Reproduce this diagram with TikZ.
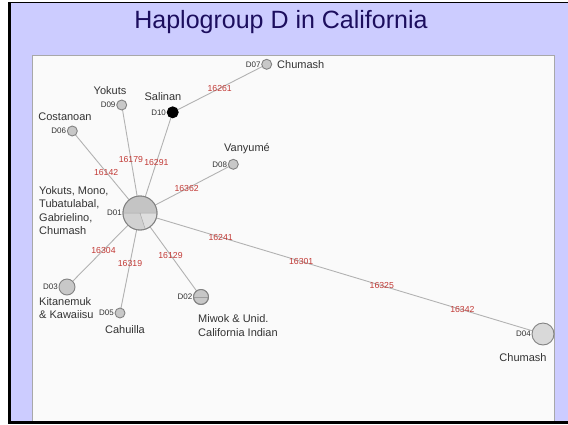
\documentclass[tikz,border=0pt]{standalone}
\usepackage{fontspec}
\setmainfont{Liberation Sans}
\usetikzlibrary{backgrounds}

\definecolor{lav}{HTML}{CCCCFF}
\definecolor{navy}{HTML}{1C0E5E}
\definecolor{mutred}{HTML}{C23A36}
\definecolor{edgegray}{HTML}{B2B2B2}
\definecolor{nodegray}{HTML}{C8C8C8}
\definecolor{ringgray}{HTML}{828282}
\definecolor{txtgray}{HTML}{333333}
\definecolor{panelline}{HTML}{A8A8A8}

\begin{document}
\begin{tikzpicture}[x=1pt,y=-1pt,
  hap/.style={circle,draw=ringgray,fill=nodegray,line width=0.9pt,
              inner sep=0pt,minimum size=#1},
  hid/.style={font=\fontsize{8}{9}\selectfont,text=txtgray,inner sep=0.6pt},
  pop/.style={font=\fontsize{11}{13.3}\selectfont,text=txtgray,inner sep=0pt},
  link/.style={draw=edgegray,line width=0.9pt},
  mut/.style={font=\fontsize{8.7}{9}\selectfont,text=mutred,inner sep=0pt}]

\useasboundingbox (0,0) rectangle (568,424);

% slide frame and white plotting panel
\begin{scope}[on background layer]
  \fill[lav] (11,3.3) rectangle (568,420.8);
  \fill[black] (8,1.7) rectangle (11,424);
  \fill[black] (8,1.7) rectangle (568,3.3);
  \fill[white!98!black] (32,55) rectangle (554,420.8);
  \draw[panelline,line width=0.8pt] (32,420.8) -- (32,55) -- (554,55) -- (554,420.8);
  \fill[black] (8,420.8) rectangle (568,424);
\end{scope}

% title
\node[font=\fontsize{25}{28}\selectfont,text=navy] (title) at (281,22)
  {Haplogroup D in California};

% haplotypes
\node[hap=34pt,label={[hid]left:D01}] (d01) at (140,213) {};
\node[hap=16pt,label={[hid]left:D03}] (d03) at (67,287) {};
\node[hap=10pt,label={[hid]left:D05}] (d05) at (120,313) {};
\node[hap=15pt,label={[hid]left:D02}] (d02) at (201,297) {};
\node[hap=22pt,fill=white!85!black,label={[hid]left:D04}] (d04) at (543,334) {};
\node[hap=10pt,label={[hid]left:D06}] (d06) at (72.3,131) {};
\node[hap=10pt,label={[hid]left:D09}] (d09) at (121.7,105) {};
\node[hap=11pt,fill=black,draw=black,label={[hid]left:D10}] (d10) at (172.7,112.3) {};
\node[hap=10pt,label={[hid]left:D07}] (d07) at (266.7,64.3) {};
\node[hap=10pt,label={[hid]left:D08}] (d08) at (233.3,164.3) {};

% shares of the central haplotype
\fill[white!77!black] (d01.center) -- ++(180:16.6) arc (180:360:16.6) -- cycle;
\fill[white!82!black] (d01.center) -- ++(72:16.6) arc (72:180:16.6) -- cycle;
\fill[white!87!black] (d01.center) -- ++(0:16.6) arc (0:72:16.6) -- cycle;
\draw[white!66!black,line width=0.5pt]
  (d01.west) -- (d01.east) (d01.center) -- ++(72:16.6);
\draw[ringgray,line width=0.9pt] (d01) circle (17);

\fill[white!78!black] (d02.center) -- ++(180:7.1) arc (180:360:7.1) -- cycle;
\draw[white!62!black,line width=0.5pt] (d02.west) -- (d02.east);
\draw[ringgray,line width=0.9pt] (d02) circle (7.5);

% links
\begin{scope}[on background layer]
  \draw[link] (d01.center) -- (d09.center);
  \draw[link] (d01.center) -- (d10.center);
  \draw[link] (d01.center) -- (d06.center);
  \draw[link] (d01.center) -- (d08.center);
  \draw[link] (d01.center) -- (d03.center);
  \draw[link] (d01.center) -- (d05.center);
  \draw[link] (d01.center) -- (d02.center);
  \draw[link] (d01.center) -- (d04.center);
  \draw[link] (d10.center) -- (d07.center);
\end{scope}

% mutations
\path (d01.center) -- (d09.center) node[mut,pos=0.5] (m1) {16179};
\path (d01.center) -- (d10.center) node[mut,pos=0.5] (m2) {16291};
\path (d01.center) -- (d06.center) node[mut,pos=0.5] (m3) {16142};
\path (d01.center) -- (d08.center) node[mut,pos=0.5] (m4) {16362};
\path (d01.center) -- (d03.center) node[mut,pos=0.5] (m5) {16304};
\path (d01.center) -- (d05.center) node[mut,pos=0.5] (m6) {16319};
\path (d01.center) -- (d02.center) node[mut,pos=0.5] (m7) {16129};
\path (d10.center) -- (d07.center) node[mut,pos=0.5] (m8) {16261};
\path (d01.center) -- (d04.center)
  node[mut,pos=0.2] (m9) {16241}
  node[mut,pos=0.4] (m10) {16301}
  node[mut,pos=0.6] (m11) {16325}
  node[mut,pos=0.8] (m12) {16342};

% populations
\node[pop] (p09) at (110,91) {Yokuts};
\node[pop] (p10) at (163,97) {Salinan};
\node[pop] (p06) at (65,117) {Costanoan};
\node[pop,anchor=west] (p07) at (277,65) {Chumash};
\node[pop] (p08) at (247,149) {Vanyumé};
\node[pop,anchor=west,align=left] (p01) at (39,210.5)
  {Yokuts, Mono,\\Tubatulabal,\\Gabrielino,\\Chumash};
\node[pop,anchor=west,align=left] (p03) at (39,308)
  {Kitanemuk\\\& Kawaiisu};
\node[pop] (p05) at (125,330) {Cahuilla};
\node[pop,anchor=west,align=left] (p02) at (198,325.5)
  {Miwok \& Unid.\\California Indian};
\node[pop] (p04) at (523,358) {Chumash};

\end{tikzpicture}
\end{document}
